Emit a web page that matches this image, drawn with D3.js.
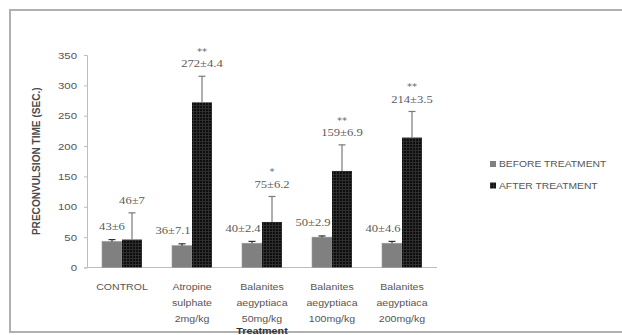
<!DOCTYPE html>
<html>
<head>
<meta charset="utf-8">
<script src="https://cdn.jsdelivr.net/npm/d3@7"></script>
<style>
  html, body { margin: 0; padding: 0; background: #fff; }
  svg { display: block; }
</style>
</head>
<body>
<svg id="chart" width="622" height="335"></svg>
<script>
// Pre-convulsion time before / after treatment
const categories = [
  ["CONTROL"],
  ["Atropine", "sulphate", "2mg/kg"],
  ["Balanites", "aegyptiaca", "50mg/kg"],
  ["Balanites", "aegyptiaca", "100mg/kg"],
  ["Balanites", "aegyptiaca", "200mg/kg"]
];
const seriesNames = ["BEFORE TREATMENT", "AFTER TREATMENT"];
const beforeValues = [43, 36, 40, 50, 40];
const afterValues = [46, 272, 75, 159, 214];
const beforeErrors = [3, 3, 3, 2, 3];
const afterErrors = [44, 43, 42, 43, 43];
const beforeLabels = ["43±6", "36±7.1", "40±2.4", "50±2.9", "40±4.6"];
const afterLabels = ["46±7", "272±4.4", "75±6.2", "159±6.9", "214±3.5"];
const significance = ["", "**", "*", "**", "**"];
const yTicks = [0, 50, 100, 150, 200, 250, 300, 350];

const svg = d3.select("#chart");
const SX = 1.2; // wide text rendering

// Outer frame
svg.append("rect")
  .attr("x", 10).attr("y", 10).attr("width", 700).attr("height", 322)
  .attr("fill", "#fff").attr("stroke", "#b0b0b0").attr("stroke-width", 2);

const defs = svg.append("defs");
const pat = defs.append("pattern").attr("id", "darkgrid")
  .attr("patternUnits", "userSpaceOnUse").attr("width", 3).attr("height", 3);
pat.append("rect").attr("width", 3).attr("height", 3).attr("fill", "#0d0d0d");
pat.append("path").attr("d", "M0,0.5H3M0.5,0V3").attr("stroke", "#2e2e2e").attr("stroke-width", 1);

const catIdx = d3.range(categories.length);
const x0 = d3.scaleBand().domain(catIdx).range([87, 437]);
const x1 = d3.scaleBand().domain([0, 1]).range([0, x0.bandwidth()]).paddingOuter(0.75).paddingInner(0);
const y = d3.scaleLinear().domain([0, 350]).range([267.5, 55]);

function wideText(sel, xPos, yPos) {
  sel.attr("transform", `translate(${xPos},${yPos}) scale(${SX},1)`);
  return sel;
}

// Y axis
const yAxis = svg.append("g").attr("transform", "translate(87,0)")
  .call(d3.axisLeft(y).tickValues(yTicks).tickSize(3).tickPadding(4).tickFormat(d3.format("d")));
yAxis.select(".domain").attr("stroke", "#bdbdbd");
yAxis.selectAll(".tick line").attr("stroke", "#bdbdbd");
yAxis.selectAll(".tick text").each(function () {
  const t = d3.select(this);
  t.attr("x", null).attr("dy", null).attr("text-anchor", "end")
    .attr("font-family", "Liberation Sans, Arial, sans-serif").attr("font-size", 9.5)
    .attr("fill", "#555").attr("dominant-baseline", "central");
  t.attr("transform", `translate(-10,0) scale(${SX},1)`);
});

// X axis line
svg.append("line").attr("x1", 87).attr("x2", 437).attr("y1", y(0)).attr("y2", y(0))
  .attr("stroke", "#bdbdbd");

// Bars
const groups = svg.append("g").selectAll("g").data(catIdx).join("g")
  .attr("transform", i => `translate(${x0(i)},0)`);

groups.append("rect")
  .attr("x", x1(0)).attr("width", x1.bandwidth())
  .attr("y", i => y(beforeValues[i])).attr("height", i => y(0) - y(beforeValues[i]))
  .attr("fill", "#808080").attr("stroke", "#9a9a9a").attr("stroke-width", 0.6);

groups.append("rect")
  .attr("x", x1(1)).attr("width", x1.bandwidth())
  .attr("y", i => y(afterValues[i])).attr("height", i => y(0) - y(afterValues[i]))
  .attr("fill", "url(#darkgrid)");

// Error bars (upper)
function errBar(g, sIdx, vals, errs, color) {
  const cx = x1(sIdx) + x1.bandwidth() / 2;
  g.append("line").attr("x1", cx).attr("x2", cx)
    .attr("y1", i => y(vals[i])).attr("y2", i => y(vals[i] + errs[i]))
    .attr("stroke", color).attr("stroke-width", 1.2);
  g.append("line").attr("x1", cx - 3.5).attr("x2", cx + 3.5)
    .attr("y1", i => y(vals[i] + errs[i])).attr("y2", i => y(vals[i] + errs[i]))
    .attr("stroke", color).attr("stroke-width", 1.2);
}
errBar(groups, 0, beforeValues, beforeErrors, "#333");
errBar(groups, 1, afterValues, afterErrors, "#7a7a7a");

// Value labels
const labelFont = "Liberation Serif, Times New Roman, serif";
groups.append("text")
  .text(i => beforeLabels[i])
  .attr("text-anchor", "middle").attr("dominant-baseline", "central")
  .attr("font-family", labelFont).attr("font-size", 10.5).attr("fill", "#5a5a5a")
  .each(function (i) {
    const cx = x1(0) + x1.bandwidth() / 2 - (i === 0 ? 0 : 9);
    wideText(d3.select(this), cx, y(beforeValues[i] + beforeErrors[i]) - 13);
  });

groups.append("text")
  .text(i => afterLabels[i])
  .attr("text-anchor", "middle").attr("dominant-baseline", "central")
  .attr("font-family", labelFont).attr("font-size", 10.5).attr("fill", "#5a5a5a")
  .each(function (i) {
    const cx = x1(1) + x1.bandwidth() / 2;
    wideText(d3.select(this), cx, y(afterValues[i] + afterErrors[i]) - 12);
  });

// Significance marks
groups.append("text")
  .text(i => significance[i])
  .attr("text-anchor", "middle")
  .attr("font-family", "DejaVu Sans, sans-serif").attr("font-size", 8.5).attr("fill", "#666")
  .each(function (i) {
    const cx = x1(1) + x1.bandwidth() / 2;
    wideText(d3.select(this), cx, y(afterValues[i] + afterErrors[i]) - 21);
  });

// Category labels
const catFont = "Liberation Sans, Arial, sans-serif";
groups.each(function (i) {
  const g = d3.select(this);
  categories[i].forEach((line, k) => {
    wideText(g.append("text").text(line)
      .attr("text-anchor", "middle").attr("dominant-baseline", "central")
      .attr("font-family", catFont).attr("font-size", 8.8).attr("fill", "#555"),
      x0.bandwidth() / 2, 287 + k * 15.8);
  });
});

// Axis titles
svg.append("text").text("PRECONVULSION TIME (SEC.)")
  .attr("transform", `translate(36,${(y(0) + y(350)) / 2}) rotate(-90) scale(1.05,${SX})`)
  .attr("text-anchor", "middle").attr("dominant-baseline", "central")
  .attr("font-family", catFont).attr("font-weight", "bold").attr("font-size", 9.6).attr("fill", "#4a4a4a");

wideText(svg.append("text").text("Treatment")
  .attr("text-anchor", "middle").attr("dominant-baseline", "central")
  .attr("font-family", catFont).attr("font-weight", "bold").attr("font-size", 9).attr("fill", "#333"),
  (87 + 437) / 2, 331);

// Legend
const legend = svg.append("g").selectAll("g").data(seriesNames).join("g")
  .attr("transform", (d, k) => `translate(490,${164 + k * 21.5})`);
legend.append("rect").attr("x", 0).attr("y", -3).attr("width", 6).attr("height", 6)
  .attr("fill", (d, k) => k === 0 ? "#808080" : "url(#darkgrid)");
legend.append("text").text(d => d)
  .attr("dominant-baseline", "central")
  .attr("font-family", catFont).attr("font-size", 8.6).attr("fill", "#555")
  .attr("transform", `translate(9,0) scale(${SX},1)`);
</script>
</body>
</html>
